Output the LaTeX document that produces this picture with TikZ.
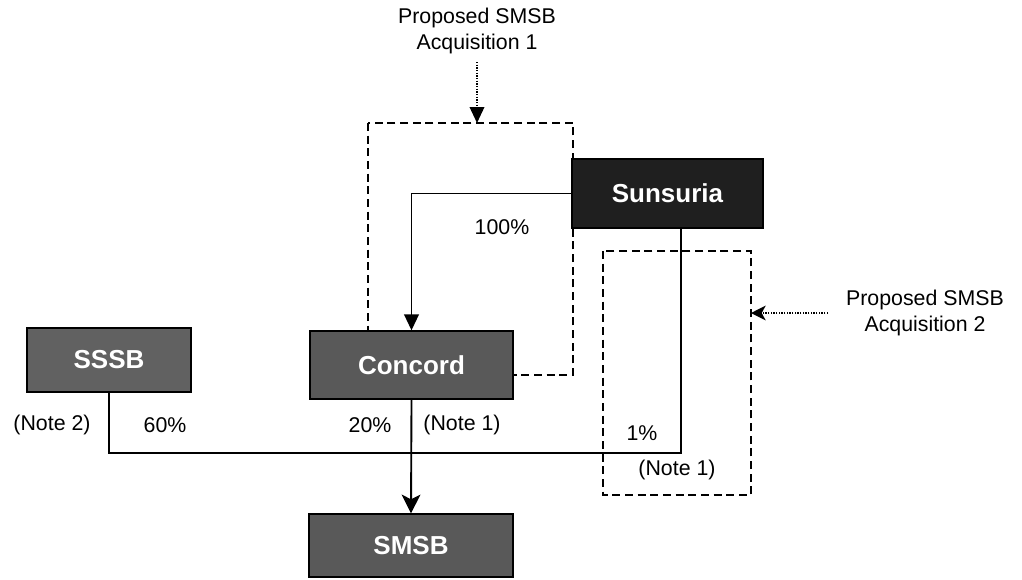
\documentclass[tikz,border=0pt]{standalone}
\usepackage{fontspec}
\setmainfont{Liberation Sans}
\usetikzlibrary{arrows.meta}
\begin{document}
\begin{tikzpicture}[x=0.75pt,y=-0.75pt,
  box/.style={draw=black, line width=1pt, text=white, inner sep=0pt,
    font=\fontsize{19.5}{22}\selectfont\bfseries},
  lbl/.style={font=\fontsize{16}{20}\selectfont, align=center, inner sep=0pt},
  conn/.style={line width=1.4pt},
  dbox/.style={line width=1.3pt, dash pattern=on 6pt off 3.5pt},
  dotarrow/.style={line width=1.1pt, dash pattern=on 1pt off 1pt},
  tri/.style={-{Triangle[length=12pt,width=11pt]}},
  stl/.style={-{Stealth[length=14pt,width=14pt,inset=3.5pt]}},
  stlsmall/.style={-{Stealth[length=11pt,width=11pt,inset=3pt]}}]
\useasboundingbox (0,0) rectangle (1022,579);
% dashed acquisition boxes
\draw[dbox] (368,123) rectangle (573,375);
\draw[dbox] (603,251) rectangle (751,495);
% company boxes
\node[box, fill=black!88, minimum width=143.25pt, minimum height=51.75pt] (sun) at (667.5,193.5) {Sunsuria};
\node[box, fill=black!65, minimum width=152.25pt, minimum height=51pt] (con) at (411.5,365) {Concord};
\node[box, fill=black!62, minimum width=123pt, minimum height=48pt] (sssb) at (109,360) {SSSB};
\node[box, fill=black!65, minimum width=153pt, minimum height=47.25pt] (smsb) at (411,545.5) {SMSB};
% labels
\node[lbl] (acq1) at (477,31) {Proposed SMSB\\Acquisition 1};
\node[lbl] (acq2) at (925,313) {Proposed SMSB\\Acquisition 2};
\node[lbl] (p100) at (502,227) {100\%};
\node[lbl] (n2) at (52,425) {(Note 2)};
\node[lbl] (p60) at (165,425) {60\%};
\node[lbl] (p20) at (370,425) {20\%};
\node[lbl] (n1a) at (462,425) {(Note 1)};
\node[lbl] (p1) at (642,433) {1\%};
\node[lbl] (n1b) at (677,470) {(Note 1)};
% connectors
\coordinate (sunbus) at (681,453);
\coordinate (a1top) at (477,62);
\coordinate (a1end) at (477,123);
\coordinate (a2start) at (828,313);
\coordinate (a2end) at (751,313);
\draw[conn, tri] (sun.west) -| (con.north);
\draw[conn] (sssb.south) |- (sunbus) -- (sunbus |- sun.south);
\draw[conn, stl] (con.south) -- (smsb.north);
\draw[dotarrow, tri] (a1top) -- (a1end);
\draw[dotarrow, stlsmall] (a2start) -- (a2end);
\end{tikzpicture}
\end{document}
